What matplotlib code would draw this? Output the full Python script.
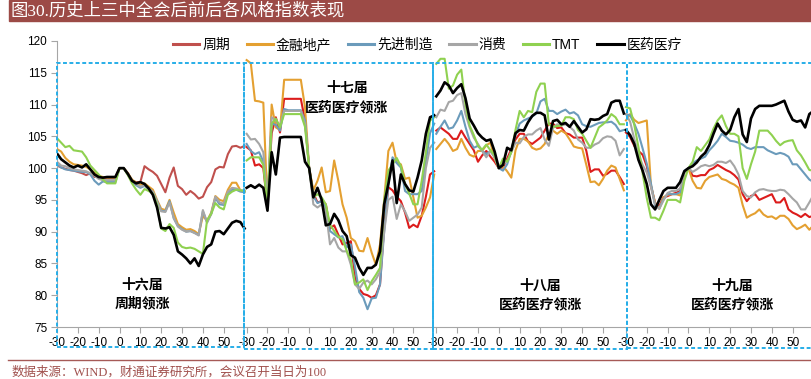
import matplotlib.pyplot as plt
import matplotlib.transforms as mtransforms
import numpy as np
from matplotlib.lines import Line2D
from matplotlib.patches import Rectangle

plt.rcParams['font.family'] = ['Liberation Sans', 'Noto Sans CJK SC']

# Data: index level read every 2 trading days, meeting day = 100
days = np.arange(-30, 62, 2)
day_ticks = [-30, -20, -10, 0, 10, 20, 30, 40, 50]
window = 91  # each meeting window runs from day -30 to day 60

styles = ['周期', '金融地产', '先进制造', '消费', 'TMT', '医药医疗']
meetings = ['十六届', '十七届', '十八届', '十九届']
leaders = ['周期领涨', '医药医疗领涨', '医药医疗领涨', '医药医疗领涨']

# 16th
cycle_16 = [100.4, 100.1, 99.9, 99.7, 99.6, 99.4, 99.2, 98.9, 99.2, 98.6, 98.8, 98.4, 98.4, 98.4, 98.4,
            100, 100, 99.2, 98, 97.8, 97.8, 100.3, 99.8, 99.4, 98.8, 97.5, 96.2, 98.5, 100.1, 97.2, 96.7,
            95.8, 96.4, 95.9, 95.2, 95.5, 97, 97.8, 99.8, 100.2, 100.1, 102.2, 103.4, 103.5, 103.2, 103.5]
fin_16 = [103, 102.6, 101.6, 101, 100.6, 100.5, 100.4, 100.2, 99.8, 99.3, 98.8, 98.6, 98.5, 98.5, 98.5,
          100, 100, 99.2, 98.2, 97.7, 97.4, 97.6, 97.1, 96.6, 95, 93.6, 93.4, 95, 93, 91.2, 90.7,
          90.3, 90.4, 90.1, 89.6, 92.5, 91.7, 93, 95.6, 95, 94.8, 96.6, 97.7, 97.7, 96.5, 96.3]
mfg_16 = [100.6, 100.1, 99.8, 99.7, 99.6, 99.5, 99.4, 99.4, 99, 98, 97.4, 97.9, 97.8, 97.8, 97.8,
          100, 100, 99, 97.9, 97.3, 96.9, 97.2, 96.7, 96.2, 94.8, 93.3, 93.2, 94.8, 92.1, 90.9, 90.4,
          90, 90.1, 89.8, 89.5, 93.2, 91.5, 92.8, 95.3, 94.3, 94.2, 96.1, 96.6, 96.6, 96.3, 96.2]
cons_16 = [101, 100.4, 100.3, 100, 99.8, 99.7, 99.6, 99.5, 99.2, 98.8, 98.3, 98.1, 98.1, 98.1, 98.1,
           100, 100, 99, 98, 97.5, 97.1, 97.3, 96.8, 96.3, 94.7, 93.2, 93.1, 94.6, 92.2, 90.8, 90.3,
           90, 90.1, 89.8, 89.4, 93.4, 91.4, 92.8, 95.5, 94.6, 94.4, 96.3, 96.9, 96.8, 96.5, 96.5]
tmt_16 = [104.7, 104, 103.3, 103.5, 102.8, 102.7, 102.6, 101.7, 100.4, 99.7, 99, 98.2, 97.6, 97.6, 97.6,
          100, 100, 98.9, 97.6, 96.6, 95.8, 96.7, 96.4, 96, 94.3, 90.5, 90.1, 91.2, 90.6, 88.3, 87.6,
          87.4, 87.5, 87.3, 86.9, 86.5, 91.8, 92.8, 94.5, 93.8, 93.5, 95.8, 96.3, 96.6, 96.5, 96.4]
med_16 = [102.3, 101.4, 100.9, 100.4, 100.1, 100.4, 100.1, 100.6, 99.8, 99, 98.6, 98.5, 98.6, 98.6, 98.6,
          100, 100, 99.1, 98, 97.6, 97.8, 97.5, 96.8, 95.8, 93.8, 90.6, 90.5, 90.7, 89.5, 86.9, 86.4,
          85.8, 85, 85.8, 84.6, 86.4, 87.6, 88, 90, 90.1, 89.6, 90.5, 91.4, 91.7, 91.5, 90.5]

# 17th
cycle_17 = [103.3, 102.8, 100.4, 100.6, 100, 94, 105.5, 108, 105.6, 110.9, 110.9, 110.9, 110.9, 110.9, 107.5,
            100, 96, 94.6, 94.8, 94.3, 90.5, 91, 89.5, 88, 88.2, 88.5, 82.7, 81, 80.2, 80, 79.6,
            80, 81.7, 91, 97, 96.5, 95.5, 94.8, 93, 90.6, 91.1, 90.7, 92.5, 95.5, 99, 99.5]
fin_17 = [117, 116.5, 110.6, 110.5, 110.3, 94, 110, 106.4, 106, 113.9, 113.9, 113.9, 113.9, 113.9, 109.6,
          100, 96.5, 98, 100.1, 96.2, 96.4, 101.2, 98, 94.3, 92.2, 89, 88.5, 87, 86.9, 89, 86.7,
          84.8, 88, 95, 102.7, 104, 100.9, 100.6, 98.3, 98.5, 95.4, 92.2, 92.5, 93.8, 95.4, 99]
mfg_17 = [103.8, 102.7, 102.2, 102.5, 101, 94.5, 107, 106.8, 105.9, 109.3, 109.1, 109.1, 109.1, 109.1, 107.5,
          100, 95.6, 94.5, 94.8, 93.8, 90.1, 89.6, 89.1, 89.3, 87.5, 88, 84.5, 80.5, 79.6, 77.8, 79.5,
          79.6, 81.7, 90, 97.5, 101.7, 100.8, 100.1, 96.4, 95.9, 95.9, 95.9, 96.4, 101, 105.5, 107]
cons_17 = [105.4, 104.5, 104.6, 103.8, 102.5, 94.5, 108, 107.5, 106.7, 109, 109, 109, 109, 109, 107,
           100, 94.3, 93.8, 94.3, 93.3, 88, 89, 87.5, 86.9, 86.9, 84.8, 81.7, 81, 82, 82.3, 81.7,
           82.5, 83.7, 90, 95, 95.5, 92, 94.3, 93.2, 91.7, 92.2, 92.7, 93.8, 100, 103.2, 104]
tmt_17 = [101.2, 101.7, 101.7, 101.7, 100.5, 93.8, 107, 107.8, 106.4, 108.5, 108.5, 108.5, 108.5, 108.5, 106.5,
          100, 95.4, 95.9, 95.4, 94.3, 91.1, 90.1, 89.2, 88.8, 87, 85.5, 81.7, 82, 82.5, 80.8, 82.2,
          83.2, 84.3, 94.8, 99.6, 100.6, 101.6, 100.3, 97.5, 96, 94.3, 94.3, 98, 102.5, 107.5, 108]
med_17 = [96.9, 97.3, 96.9, 97.4, 96.9, 93.3, 102.5, 99, 104.8, 104.9, 104.9, 104.9, 104.9, 104.9, 101,
          100, 95.4, 96.9, 95, 91, 91.2, 92.8, 91.8, 90.1, 89.3, 86.3, 85.9, 84.3, 83.2, 84.3, 84.3,
          84.8, 86.9, 94.3, 97.5, 101.2, 94.5, 99, 97.5, 96.5, 96.3, 98.5, 101.2, 105.4, 108, 108.3]

# 18th
cycle_18 = [105.9, 106.4, 105.9, 105.4, 104.6, 104.6, 105.9, 104.8, 103.8, 102.8, 101, 102, 102.7, 101.8, 101,
            100, 100.1, 101.5, 103, 104.5, 105.4, 105.4, 104.2, 103.8, 104.3, 104.8, 105.9, 107, 107, 106.3, 106.4,
            105.5, 105.3, 104.8, 104.8, 104.8, 102.7, 99.4, 99.8, 99.8, 98.8, 99.1, 99.6, 99.6, 98.6, 97.5]
fin_18 = [103, 103.8, 104.6, 103.8, 102.7, 103, 104.6, 103.2, 102.1, 101.8, 102.7, 102.7, 103.6, 104, 101.5,
          100, 100.3, 99.5, 98.5, 102.8, 104.6, 104.6, 104.2, 103.2, 102.9, 103.1, 103.8, 105.4, 105.9, 105.4, 105.9,
          105.5, 104.5, 103.4, 103.2, 103.1, 100.5, 97.8, 97.9, 97.3, 98.3, 99.6, 100.4, 100.1, 98.3, 96.5]
mfg_18 = [105.4, 106.5, 107.5, 106.2, 106.4, 107.5, 109, 106.5, 104.3, 103.2, 103.5, 102.7, 102.2, 102.7, 101.7,
          100, 99.6, 100.6, 102.7, 105.2, 107, 107.5, 107.8, 108.1, 108.6, 110.5, 110.9, 109, 109, 108.5, 108.9,
          109.2, 108.6, 108.8, 108.3, 106.9, 106.6, 106.5, 106.8, 107.1, 107.2, 107.2, 107.3, 106.8, 105.8, 106]
cons_18 = [108, 109.2, 109, 110.4, 110.6, 111.5, 111.8, 108.5, 106.4, 104.8, 103.8, 102.7, 101.7, 102.7, 101.7,
           100, 100.6, 101.1, 102.5, 104, 103.9, 104.9, 105.3, 105.3, 105.9, 106.3, 104.5, 103.5, 106.3, 106.9, 106.7,
           106.9, 106.5, 105.9, 104.5, 104, 103.2, 103.2, 103.7, 104, 104.7, 105, 104.9, 104.3, 102, 103]
tmt_18 = [116.4, 117.2, 117.2, 112.5, 113, 114.7, 115.5, 110, 106.7, 105.2, 103.5, 102.9, 103.7, 102.8, 102,
          100, 101.5, 101, 102.5, 106, 109, 108, 109, 108.8, 112, 113.3, 113.3, 106.9, 106.5, 106.6, 106.7,
          108, 108, 107.7, 106, 105.4, 104.3, 103.2, 104.8, 106.4, 106.9, 107.5, 108.5, 108, 106.9, 106.9]
med_18 = [111.3, 112.2, 113.5, 113, 111.8, 112.6, 113.2, 111, 107.8, 106.7, 105.5, 104.8, 104.3, 104.5, 102.6,
          100, 100.5, 103.2, 102.8, 105.5, 106, 105.9, 107.2, 108.2, 108.7, 108.7, 108.3, 104.5, 107.4, 107.6, 106.9,
          107.1, 106.5, 107.4, 106.5, 105.6, 106.1, 107.7, 107.6, 107.7, 108.2, 108.5, 110.3, 110.6, 110.6, 108.6]

# 19th
cycle_19 = [105.6, 104.9, 103.5, 102.7, 102.1, 100.3, 97.2, 94.5, 94, 95.4, 95.6, 95.9, 96.1, 96.4, 99.4,
            100, 98.8, 98.7, 98.9, 98.9, 99.7, 100, 100.5, 100.1, 99.7, 99.4, 98.9, 98.2, 95.9, 94.8, 95.6,
            95.9, 95, 95.3, 95.6, 95.9, 94.6, 94.6, 95.3, 93.5, 93, 92.7, 92.3, 92.8, 92.3, 92.5]
fin_19 = [107.5, 108.5, 107.6, 107.1, 107.3, 107.5, 97.3, 94.5, 93.6, 95.4, 95.8, 95.9, 95.9, 95.7, 99.3,
          100, 98, 96.9, 96.8, 98, 98.6, 98.8, 99, 98.3, 98.1, 97.7, 97.4, 96.9, 94.2, 92.2, 92.6,
          92.9, 93.5, 92.7, 92.3, 92.4, 92, 92.5, 92.5, 92, 91, 90.4, 90.7, 91.1, 90.3, 91]
mfg_19 = [108.5, 108.3, 107, 105.4, 103.1, 100.7, 97.6, 94, 93.7, 95.1, 95.9, 95.9, 95.9, 96.2, 99.6,
          100, 100.8, 101.2, 101.5, 101.8, 102.8, 103.5, 104.3, 105.4, 104.9, 104.3, 104.2, 104, 103.7, 103.2, 103,
          103.3, 103.3, 103.3, 102.8, 102.5, 102.2, 102.4, 102.2, 101.8, 100.6, 100.6, 99.8, 99, 98.2, 97.8]
cons_19 = [108.5, 107.3, 104.6, 102.2, 100.5, 99.3, 97, 94.3, 93.6, 94.9, 96.1, 96.4, 96.4, 96.8, 99.2,
           100, 99.4, 99.8, 100.3, 100.5, 100.3, 100.5, 101, 101, 100.8, 101.2, 100.3, 99, 96.4, 95.6, 95.4,
           96.2, 96.6, 96.7, 96.5, 96.4, 96.4, 96.6, 96.5, 95.9, 95.2, 94.6, 93.5, 93.5, 94.6, 95.8]
tmt_19 = [109.6, 109.4, 106.8, 103.3, 99.2, 95.3, 92.2, 92.2, 91.8, 93.3, 95, 95, 95, 94.6, 98,
          100, 101, 103.3, 102.7, 103.6, 104.5, 106.2, 107.5, 108.3, 106.6, 105.4, 105.4, 105, 100, 98.3, 100.6,
          102.6, 105.9, 105.9, 105.9, 105.2, 104.3, 103.6, 104.1, 104.3, 104.4, 102.8, 102, 100.9, 99.7, 99.6]
med_19 = [106, 105.2, 103.8, 101.3, 99.6, 97.5, 94.3, 93.5, 95, 96.4, 96.9, 96.9, 96.9, 97.8, 99.5,
          100, 100.3, 100.9, 101.8, 102.4, 103.6, 105.4, 107, 105.9, 105.3, 106, 108, 109.3, 105.3, 104.1, 107.8,
          109.3, 109.8, 109.8, 109.8, 109.8, 110, 110.3, 110.6, 108.9, 107.6, 107.3, 107.5, 106.4, 108.5, 109]

series = {
    '周期': [cycle_16, cycle_17, cycle_18, cycle_19],
    '金融地产': [fin_16, fin_17, fin_18, fin_19],
    '先进制造': [mfg_16, mfg_17, mfg_18, mfg_19],
    '消费': [cons_16, cons_17, cons_18, cons_19],
    'TMT': [tmt_16, tmt_17, tmt_18, tmt_19],
    '医药医疗': [med_16, med_17, med_18, med_19],
}

colors = {'周期': '#C0504D', '金融地产': '#E4A031', '先进制造': '#6B9BBB',
          '消费': '#A6A6A6', 'TMT': '#8FD150', '医药医疗': '#000000'}
# the cycle line is a brighter red in the later three windows
cycle_colors = ['#C0504D', '#DC1C1C', '#DC1C1C', '#DC1C1C']

W, H = 811, 379
fig = plt.figure(figsize=(W / 100, H / 100), dpi=100)
ax = fig.add_axes([57 / W, 1 - 327 / H, (W - 57) / W, (327 - 41) / H])

for k in range(4):
    x = k * window + (days + 30)
    for i, name in enumerate(styles):
        c = cycle_colors[k] if name == '周期' else colors[name]
        lw = 1.9 if name == '医药医疗' else 1.5
        ax.plot(x, series[name][k], color=c, lw=lw, zorder=2 + i, solid_joinstyle='round')

ax.set_xlim(0, 361.8)
ax.set_ylim(75, 120)
ax.set_yticks(np.arange(75, 121, 5))

tick_pos = [k * window + d + 30 for k in range(4) for d in day_ticks]
tick_lab = [str(d) for k in range(4) for d in day_ticks]
ax.set_xticks(tick_pos)
ax.set_xticklabels(tick_lab)
ax.tick_params(axis='both', labelsize=8.5, length=4, color='#A6A6A6', pad=3)

for s in ['top', 'right']:
    ax.spines[s].set_visible(False)
for s in ['left', 'bottom']:
    ax.spines[s].set_color('#A6A6A6')

# dotted boxes around each meeting window
trans = mtransforms.blended_transform_factory(ax.transData, fig.transFigure)
edges = [0, window - 1.5, 2 * window - 1.5, 3 * window + 0.5, 4 * window + 20]
bottoms = [347, 349, 349, 348]
for k in range(4):
    y0 = 1 - bottoms[k] / H
    y1 = 1 - 63 / H
    ax.add_patch(Rectangle((edges[k], y0), edges[k + 1] - edges[k], y1 - y0, transform=trans,
                           fill=False, ec='#27AEE8', lw=1.4, ls=(0, (2, 1.3)),
                           clip_on=False, zorder=10))

# meeting labels
label_day = [11, 18, 20, 21]
label_val = [80.2, 111.1, 80.0, 80.0]
for k in range(4):
    ax.text(k * window + label_day[k] + 30, label_val[k], meetings[k] + '\n' + leaders[k],
            ha='center', va='center', fontsize=10, linespacing=1.45,
            family=['Noto Sans CJK SC'], fontweight='bold', zorder=12)

# legend
handles = [Line2D([0], [0], color=colors[n], lw=2.2) for n in styles]
fig.legend(handles, styles, loc='center', bbox_to_anchor=(0.527, 1 - 45 / H), ncol=6,
           frameon=False, fontsize=10, handlelength=1.9, handletextpad=0.2, columnspacing=1.2)

# title bar
fig.patches.append(Rectangle((9 / W, 1 - 21 / H), 1, 21 / H, transform=fig.transFigure,
                             color='#9C4A46', zorder=0))
fig.text(11 / W, 1 - 11 / H, '图30.历史上三中全会后前后各风格指数表现', color='white',
         fontsize=12.5, va='center', ha='left', family=['Liberation Serif', 'Noto Sans CJK SC'])

# source line
fig.add_artist(Line2D([8 / W, 1], [1 - 360 / H, 1 - 360 / H], color='#A65A57', lw=1,
                      transform=fig.transFigure))
fig.text(12 / W, 1 - 372 / H, '数据来源：WIND，财通证券研究所，会议召开当日为100', color='#A0504D',
         fontsize=9, va='center', ha='left', family=['Liberation Serif', 'Noto Sans CJK SC'])

fig.savefig('out.png', dpi=100)
